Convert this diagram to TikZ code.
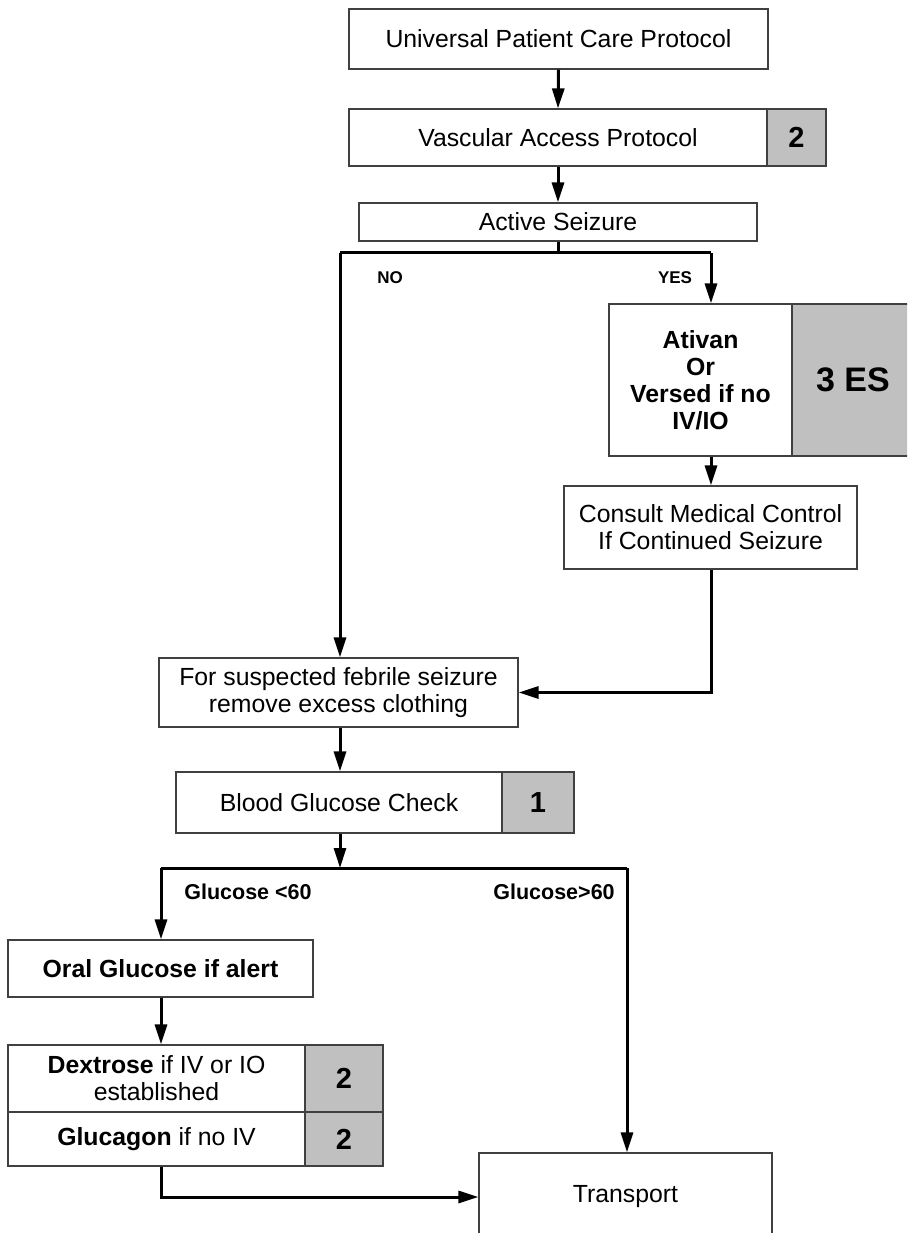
\documentclass[tikz,border=0pt]{standalone}
\usepackage{fontspec}
\setmainfont{Liberation Sans}
\usetikzlibrary{arrows.meta}
\definecolor{boxgrey}{HTML}{C0C0C0}
\definecolor{boxline}{HTML}{404040}
\tikzset{
  box/.style={draw=boxline, line width=1.2pt, fill=white, align=center, inner sep=0pt,
    font=\fontsize{24.8}{27}\selectfont},
  numbox/.style={box, fill=boxgrey, font=\fontsize{29}{30}\selectfont\bfseries},
  conn/.style={line width=3pt, -{Triangle[length=20pt,width=12pt]}},
  line/.style={line width=3pt},
  lbl/.style={font=\fontsize{21.5}{23}\selectfont\bfseries, inner sep=0pt},
  slbl/.style={font=\fontsize{17}{18}\selectfont\bfseries, inner sep=0pt}
}
\begin{document}
\begin{tikzpicture}[x=1pt,y=-1pt]
\useasboundingbox (0,0) rectangle (907,1233);
\clip (0,0) rectangle (907,1233);
% boxes
\node[box, minimum width=419pt, minimum height=60pt] (ucp) at (558.5,39) {Universal Patient Care Protocol};
\node[box, minimum width=418pt, minimum height=57pt] (vap) at (558,137.5) {Vascular Access Protocol};
\node[numbox, minimum width=59pt, minimum height=57pt] (vapn) at (796.5,137.5) {2};
\node[box, minimum width=398pt, minimum height=38pt] (act) at (558,222) {Active Seizure};
\node[box, minimum width=183pt, minimum height=152pt, font=\fontsize{24.8}{27}\selectfont\bfseries] (ati) at (700.5,380) {Ativan\\Or\\Versed if no\\IV/IO};
\node[numbox, minimum width=122pt, minimum height=152pt, font=\fontsize{34}{35}\selectfont\bfseries] (atin) at (853,380) {3 ES};
\node[box, minimum width=293pt, minimum height=83pt] (con) at (710.5,527.5) {Consult Medical Control\\If Continued Seizure};
\node[box, minimum width=359pt, minimum height=69pt] (feb) at (338.5,692.5) {For suspected febrile seizure\\remove excess clothing};
\node[box, minimum width=326pt, minimum height=61pt] (bgc) at (339,802.5) {Blood Glucose Check};
\node[numbox, minimum width=72pt, minimum height=61pt] (bgcn) at (538,802.5) {1};
\node[box, minimum width=305pt, minimum height=57pt, font=\fontsize{24.8}{27}\selectfont\bfseries] (oral) at (160.5,968.5) {Oral Glucose if alert};
\node[box, minimum width=297pt, minimum height=67pt] (dex) at (156.5,1078.5) {\textbf{Dextrose} if IV or IO\\established};
\node[numbox, minimum width=78pt, minimum height=67pt] (dexn) at (344,1078.5) {2};
\node[box, minimum width=297pt, minimum height=54pt] (glu) at (156.5,1139) {\textbf{Glucagon} if no IV};
\node[numbox, minimum width=78pt, minimum height=54pt] (glun) at (344,1139) {2};
\node[box, minimum width=293pt, minimum height=88pt] (trans) at (625.5,1197) {Transport};
% labels
\node[slbl] (no) at (390,278) {NO};
\node[slbl] (yes) at (675,278) {YES};
\node[lbl] (glo) at (248,892) {Glucose <60};
\node[lbl] (ghi) at (554,892) {Glucose>60};
% branch coordinates
\coordinate (b1) at (558,253);
\coordinate (b1l) at (340,253);
\coordinate (b1r) at (711,253);
\coordinate (b2) at (340,868);
\coordinate (b2l) at (161,868);
\coordinate (b2r) at (627,868);
% connectors
\draw[conn] (ucp.south) -- (vap.north);
\draw[conn] (vap.south) -- (act.north);
\draw[line] (act.south) -- (b1);
\draw[line] (b1l) -- (b1r);
\draw[conn] (b1l) -- (b1l |- feb.north);
\draw[conn] (b1r) -- (b1r |- ati.north);
\draw[conn] (b1r |- ati.south) -- (b1r |- con.north);
\draw[conn] (b1r |- con.south) |- (feb.east);
\draw[conn] (b1l |- feb.south) -- (b1l |- bgc.north);
\draw[conn] (b1l |- bgc.south) -- (b2);
\draw[line] (b2l) -- (b2r);
\draw[conn] (b2l) -- (b2l |- oral.north);
\draw[conn] (b2r) -- (b2r |- trans.north);
\draw[conn] (b2l |- oral.south) -- (b2l |- dex.north);
\draw[conn] (b2l |- glu.south) |- (trans.west);
\end{tikzpicture}
\end{document}
